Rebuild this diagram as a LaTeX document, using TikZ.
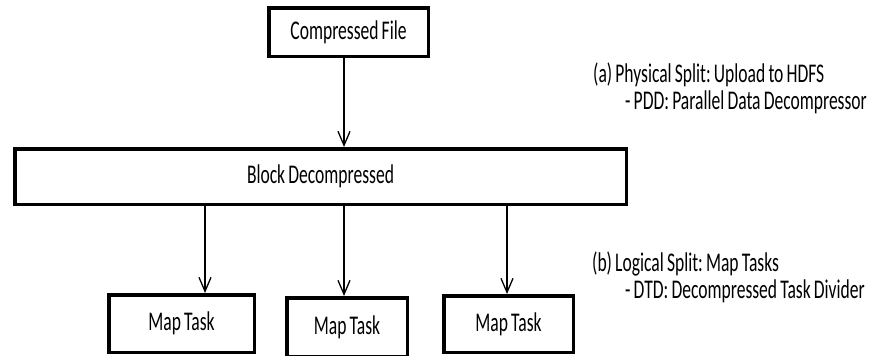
\documentclass[tikz,border=0pt]{standalone}
\usepackage{fontspec}
\setmainfont[FakeStretch=0.65,WordSpace=0.8]{Carlito}
\frenchspacing
\usetikzlibrary{arrows.meta}

\begin{document}
\begin{tikzpicture}[x=1pt,y=-1pt,>={Straight Barb[length=14pt,width=12pt]},
		font=\fontsize{27}{32}\selectfont]
			\useasboundingbox (0,0) rectangle (879,356);
			
			\begin{scope}[every node/.style={rectangle,draw,line width=3.5pt,inner sep=0pt}]
				\node [minimum width=159.5pt,minimum height=48.5pt] (cf) at (348.5,32) {Compressed File};
				\node [minimum width=611.5pt,minimum height=55.5pt] (bd) at (320.5,176.5) {Block Decompressed};
				\node [minimum width=145.5pt,minimum height=57.5pt] (mt1) at (181.5,323.5) {Map Task};
				\node [minimum width=120.5pt,minimum height=58.5pt] (mt2) at (347,327) {Map Task};
				\node [minimum width=129.5pt,minimum height=56.5pt] (mt3) at (508.5,324) {Map Task};
			\end{scope}
			
			% x positions of the arrows
			\coordinate (a0) at (344,0);
			\coordinate (a1) at (205,0);
			\coordinate (a2) at (344,0);
			\coordinate (a3) at (507,0);
			
			\begin{scope}[every edge/.style={draw=black,line width=1.3pt}]
				\path [->] (cf.south -| a0) edge (bd.north -| a0);
				\path [->] (bd.south -| a1) edge (mt1.north -| a1);
				\path [->] (bd.south -| a2) edge (mt2.north -| a2);
				\path [->] (bd.south -| a3) edge (mt3.north -| a3);
			\end{scope}
			
			\begin{scope}[every node/.style={anchor=base west,inner sep=0pt}]
				\node (pa) at (593,82) {(a) Physical Split: Upload to HDFS};
				\node (pb) at (625,109) {- PDD: Parallel Data Decompressor};
				\node (la) at (592,271) {(b) Logical Split: Map Tasks};
				\node (lb) at (625,298) {- DTD: Decompressed Task Divider};
			\end{scope}
		\end{tikzpicture}
\end{document}
